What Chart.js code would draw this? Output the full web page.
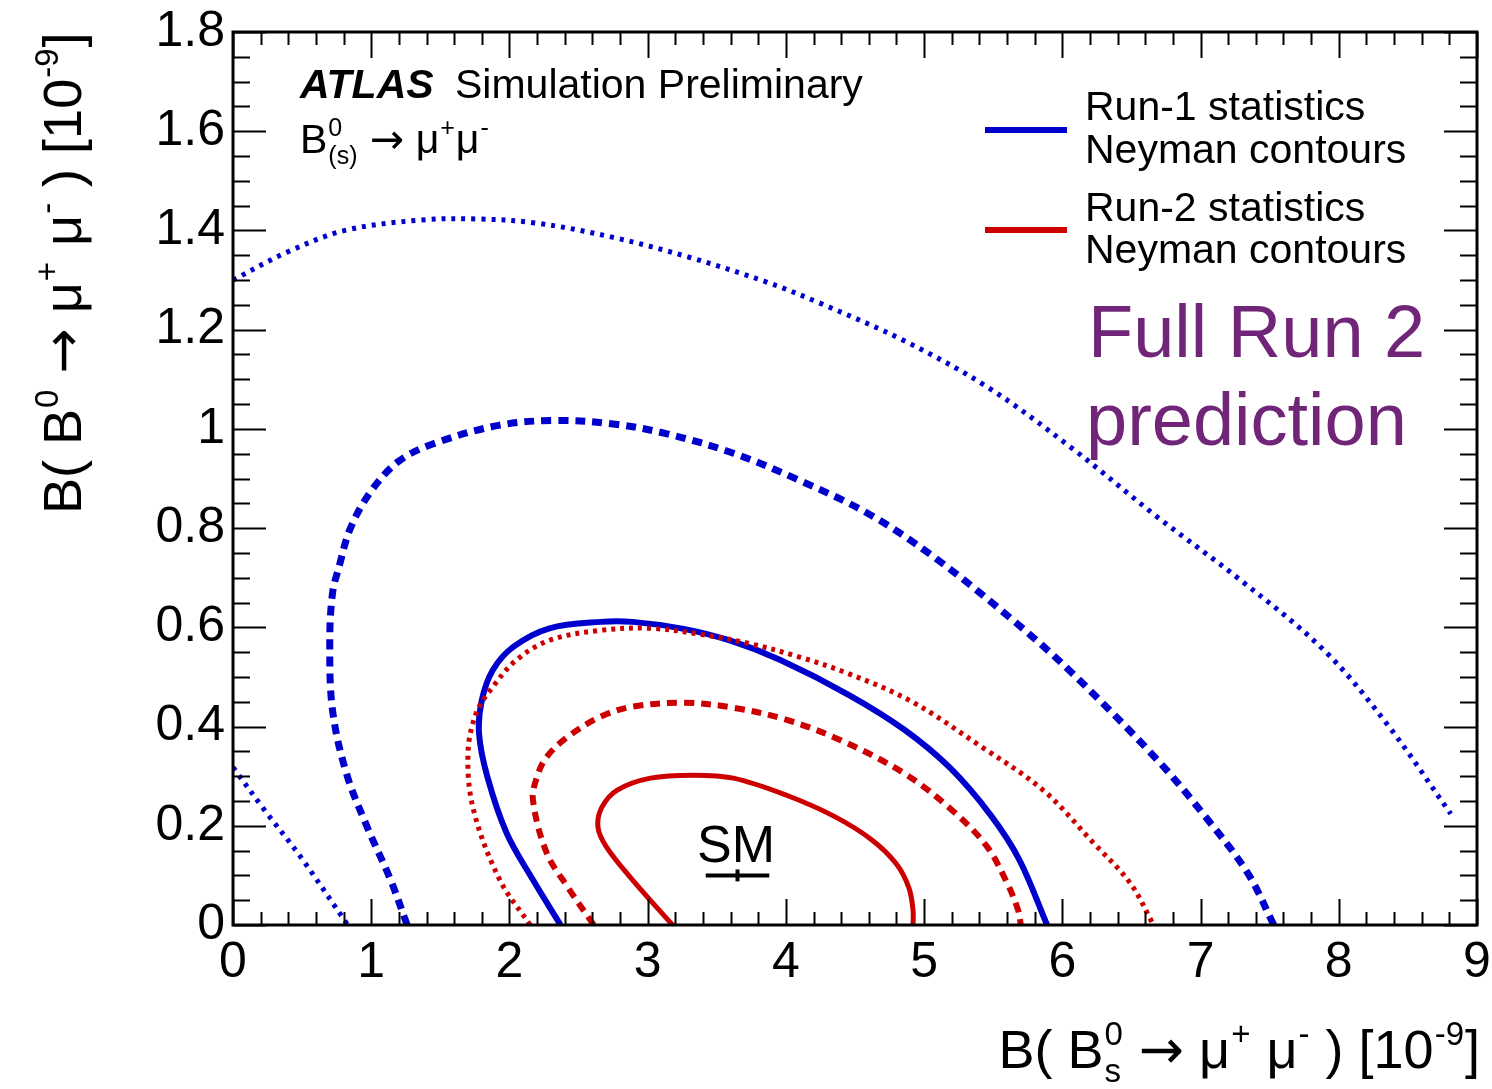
<!DOCTYPE html>
<html>
<head>
<meta charset="utf-8">
<script src="https://cdn.jsdelivr.net/npm/chart.js@4.4.1/dist/chart.umd.min.js"></script>
<style>
  html, body { margin: 0; padding: 0; background: #fff; }
  canvas { display: block; }
</style>
</head>
<body>
<canvas id="chart" width="1492" height="1089"></canvas>
<script>
// Run-1 statistics, Neyman contours (blue)
const run1Sig3aX = [0, 0.39, 0.81, 1.36, 1.78, 2.19, 2.75, 3.30, 3.86, 4.25, 4.86, 5.46, 6.07, 6.68, 7.29, 7.90, 8.36, 8.81];
const run1Sig3aY = [1.30, 1.356, 1.40, 1.421, 1.423, 1.415, 1.386, 1.346, 1.296, 1.253, 1.177, 1.084, 0.961, 0.824, 0.695, 0.552, 0.401, 0.224];
const run1Sig3bX = [0, 0.23, 0.49, 0.83];
const run1Sig3bY = [0.318, 0.231, 0.137, 0];
const run1Sig2X = [1.26, 1.14, 0.97, 0.82, 0.72, 0.70, 0.72, 0.77, 0.85, 1.00, 1.20, 1.45, 1.92, 2.33, 2.75, 3.14, 3.62, 4.10, 4.59, 5.07, 5.67, 6.07, 6.68, 7.03, 7.34, 7.53];
const run1Sig2Y = [0, 0.091, 0.198, 0.306, 0.433, 0.568, 0.669, 0.725, 0.80, 0.875, 0.935, 0.97, 1.007, 1.017, 1.010, 0.990, 0.951, 0.896, 0.830, 0.742, 0.608, 0.508, 0.335, 0.22, 0.105, 0];
const run1Sig1X = [2.37, 2.17, 1.98, 1.84, 1.78, 1.80, 1.88, 2.03, 2.29, 2.66, 2.89, 3.26, 3.60, 3.96, 4.46, 4.86, 5.19, 5.48, 5.69, 5.89];
const run1Sig1Y = [0, 0.091, 0.185, 0.299, 0.386, 0.453, 0.514, 0.561, 0.598, 0.611, 0.611, 0.597, 0.573, 0.534, 0.463, 0.393, 0.316, 0.222, 0.131, 0];

// Run-2 statistics, Neyman contours (red)
const run2Sig3X = [2.15, 1.93, 1.74, 1.70, 1.76, 1.88, 2.05, 2.29, 2.66, 3.02, 3.38, 3.74, 4.10, 4.44, 4.90, 5.40, 5.86, 6.22, 6.49, 6.66];
const run2Sig3Y = [0, 0.091, 0.232, 0.346, 0.427, 0.480, 0.534, 0.574, 0.594, 0.598, 0.586, 0.567, 0.540, 0.508, 0.452, 0.362, 0.272, 0.167, 0.085, 0];
const run2Sig2X = [2.61, 2.42, 2.27, 2.17, 2.20, 2.27, 2.42, 2.66, 2.89, 3.26, 3.62, 4.00, 4.40, 4.86, 5.20, 5.45, 5.60, 5.68, 5.70];
const run2Sig2Y = [0, 0.077, 0.145, 0.252, 0.299, 0.339, 0.379, 0.420, 0.440, 0.448, 0.438, 0.414, 0.372, 0.305, 0.232, 0.160, 0.085, 0.03, 0];
const run2Sig1X = [3.18, 2.89, 2.70, 2.64, 2.67, 2.78, 3.02, 3.33, 3.62, 4.00, 4.35, 4.62, 4.80, 4.89, 4.92, 4.92];
const run2Sig1Y = [0, 0.091, 0.158, 0.198, 0.238, 0.272, 0.296, 0.302, 0.296, 0.262, 0.219, 0.172, 0.123, 0.075, 0.03, 0];

// SM prediction with error bars
const smBarX = [3.42, 3.88];
const smBarY = [0.1, 0.1];
const smErrX = [3.65, 3.65];
const smErrY = [0.088, 0.112];

const xTicks = [0, 1, 2, 3, 4, 5, 6, 7, 8, 9];
const yTicks = [0, 0.2, 0.4, 0.6, 0.8, 1, 1.2, 1.4, 1.6, 1.8];

const BLUE = '#0000cc';
const RED = '#cc0000';
const FONT = '"Liberation Sans", Arial, Helvetica, sans-serif';
const ARROW_FONT = '"DejaVu Sans", sans-serif';

function pts(xs, ys) {
  return xs.map((x, i) => ({ x, y: ys[i] }));
}

function contour(xs, ys, color, width, dash) {
  return {
    data: pts(xs, ys),
    showLine: true,
    borderColor: color,
    borderWidth: width,
    borderDash: dash,
    borderCapStyle: 'butt',
    pointRadius: 0,
    tension: 0.35,
    fill: false,
  };
}

// text with super/subscripts, ROOT-like
function partFont(p, size) {
  return `${size}px ${p.arrow ? ARROW_FONT : FONT}`;
}

function richWidth(ctx, parts, size) {
  let w = 0;
  for (const p of parts) {
    if (p.t != null) {
      ctx.font = partFont(p, size);
      w += ctx.measureText(p.t).width;
    } else {
      ctx.font = `${Math.round(size * 0.62)}px ${FONT}`;
      w += Math.max(p.sup ? ctx.measureText(p.sup).width : 0, p.sub ? ctx.measureText(p.sub).width : 0) + 2;
    }
  }
  return w;
}

function drawRich(ctx, parts, x, y, size, align) {
  let cx = align === 'right' ? x - richWidth(ctx, parts, size) : x;
  ctx.textAlign = 'left';
  ctx.textBaseline = 'alphabetic';
  for (const p of parts) {
    if (p.t != null) {
      ctx.font = partFont(p, size);
      ctx.fillText(p.t, cx, y);
      cx += ctx.measureText(p.t).width;
    } else {
      ctx.font = `${Math.round(size * 0.62)}px ${FONT}`;
      let w = 0;
      if (p.sup) {
        ctx.fillText(p.sup, cx + 1, y - size * 0.42);
        w = ctx.measureText(p.sup).width;
      }
      if (p.sub) {
        ctx.fillText(p.sub, cx + 1, y + size * 0.26);
        w = Math.max(w, ctx.measureText(p.sub).width);
      }
      cx += w + 2;
    }
  }
}

const frameAndText = {
  id: 'frameAndText',
  afterDatasetsDraw(chart) {
    const ctx = chart.ctx;
    const xs = chart.scales.x, ys = chart.scales.y;
    const { left, right, top, bottom } = chart.chartArea;
    ctx.save();
    ctx.strokeStyle = '#000';
    ctx.lineWidth = 2;
    ctx.beginPath();
    // x ticks, 4 minor between majors, bottom and top
    for (let i = 0; i <= 45; i++) {
      const px = Math.round(xs.getPixelForValue(i / 5)) + 0.5;
      const len = i % 5 === 0 ? 26 : 13;
      ctx.moveTo(px, bottom); ctx.lineTo(px, bottom - len);
      ctx.moveTo(px, top); ctx.lineTo(px, top + len);
    }
    // y ticks, 3 minor between majors, left and right
    for (let i = 0; i <= 36; i++) {
      const py = Math.round(ys.getPixelForValue(i * 0.05)) + 0.5;
      const len = i % 4 === 0 ? 33 : 17;
      ctx.moveTo(left, py); ctx.lineTo(left + len, py);
      ctx.moveTo(right, py); ctx.lineTo(right - len, py);
    }
    ctx.stroke();
    ctx.lineWidth = 3;
    ctx.strokeRect(left, top, right - left, bottom - top);
    ctx.restore();
  },
  afterDraw(chart) {
    const ctx = chart.ctx;
    ctx.save();
    ctx.fillStyle = '#000';

    // ATLAS label
    ctx.font = `italic bold 41px ${FONT}`;
    ctx.textBaseline = 'alphabetic';
    ctx.fillText('ATLAS', 300, 98);
    ctx.font = `41px ${FONT}`;
    ctx.fillText('Simulation Preliminary', 455, 98);
    drawRich(ctx, [{ t: 'B' }, { sup: '0', sub: '(s)' }, { t: ' ' }, { t: '\u2192', arrow: true }, { t: ' \u03bc' }, { sup: '+' }, { t: '\u03bc' }, { sup: '-' }], 300, 153, 41, 'left');

    // legend
    ctx.lineWidth = 6;
    ctx.strokeStyle = BLUE;
    ctx.beginPath(); ctx.moveTo(985, 130); ctx.lineTo(1067, 130); ctx.stroke();
    ctx.strokeStyle = RED;
    ctx.beginPath(); ctx.moveTo(985, 230); ctx.lineTo(1067, 230); ctx.stroke();
    ctx.font = `41px ${FONT}`;
    ctx.fillText('Run-1 statistics', 1085, 120);
    ctx.fillText('Neyman contours', 1085, 163);
    ctx.fillText('Run-2 statistics', 1085, 221);
    ctx.fillText('Neyman contours', 1085, 263);

    // Full Run 2 prediction
    ctx.fillStyle = '#702578';
    ctx.font = `74px ${FONT}`;
    ctx.fillText('Full Run 2', 1088, 357);
    ctx.fillText('prediction', 1086, 445);

    // SM
    ctx.fillStyle = '#000';
    ctx.font = `52px ${FONT}`;
    ctx.textAlign = 'center';
    ctx.fillText('SM', 736, 862);

    // axis titles
    const axisParts = (sub) => [{ t: 'B( B' }, sub ? { sup: '0', sub: 's' } : { sup: '0' }, { t: ' ' }, { t: '\u2192', arrow: true }, { t: ' \u03bc' }, { sup: '+' }, { t: ' \u03bc' }, { sup: '-' }, { t: ' ) [10' }, { sup: '-9' }, { t: ']' }];
    drawRich(ctx, axisParts(true), 1480, 1068, 54, 'right');
    ctx.translate(81, 514);
    ctx.rotate(-Math.PI / 2);
    drawRich(ctx, axisParts(false), 0, 0, 54, 'left');
    ctx.restore();
  },
};

new Chart(document.getElementById('chart'), {
  type: 'scatter',
  data: {
    datasets: [
      contour(run2Sig3X, run2Sig3Y, RED, 5, [4, 5]),
      contour(run2Sig2X, run2Sig2Y, RED, 6, [10, 7]),
      contour(run2Sig1X, run2Sig1Y, RED, 5, []),
      contour(run1Sig3aX, run1Sig3aY, BLUE, 5, [4, 6]),
      contour(run1Sig3bX, run1Sig3bY, BLUE, 5, [4, 6]),
      contour(run1Sig2X, run1Sig2Y, BLUE, 7, [10, 7]),
      contour(run1Sig1X, run1Sig1Y, BLUE, 6, []),
      { data: pts(smBarX, smBarY), showLine: true, borderColor: '#000', borderWidth: 4, pointRadius: 0, tension: 0 },
      { data: pts(smErrX, smErrY), showLine: true, borderColor: '#000', borderWidth: 4, pointRadius: 0, tension: 0 },
    ],
  },
  options: {
    responsive: false,
    animation: false,
    devicePixelRatio: 1,
    layout: { padding: { top: 32, right: 15, left: 0, bottom: 0 } },
    plugins: { legend: { display: false }, tooltip: { enabled: false } },
    scales: {
      x: {
        type: 'linear',
        min: 0,
        max: 9,
        afterBuildTicks: (s) => { s.ticks = xTicks.map((v) => ({ value: v })); },
        afterFit: (s) => { s.height = 164; s.paddingLeft = 0; s.paddingRight = 0; },
        grid: { display: false },
        border: { display: false },
        ticks: { color: '#000', font: { family: FONT, size: 50 }, padding: 0, maxRotation: 0 },
      },
      y: {
        type: 'linear',
        min: 0,
        max: 1.8,
        afterBuildTicks: (s) => { s.ticks = yTicks.map((v) => ({ value: v })); },
        afterFit: (s) => { s.width = 233; s.paddingTop = 0; s.paddingBottom = 0; },
        grid: { display: false },
        border: { display: false },
        ticks: {
          color: '#000',
          font: { family: FONT, size: 50 },
          padding: 0,
          callback: (v) => String(Math.round(v * 10) / 10),
        },
      },
    },
  },
  plugins: [frameAndText],
});
</script>
</body>
</html>
